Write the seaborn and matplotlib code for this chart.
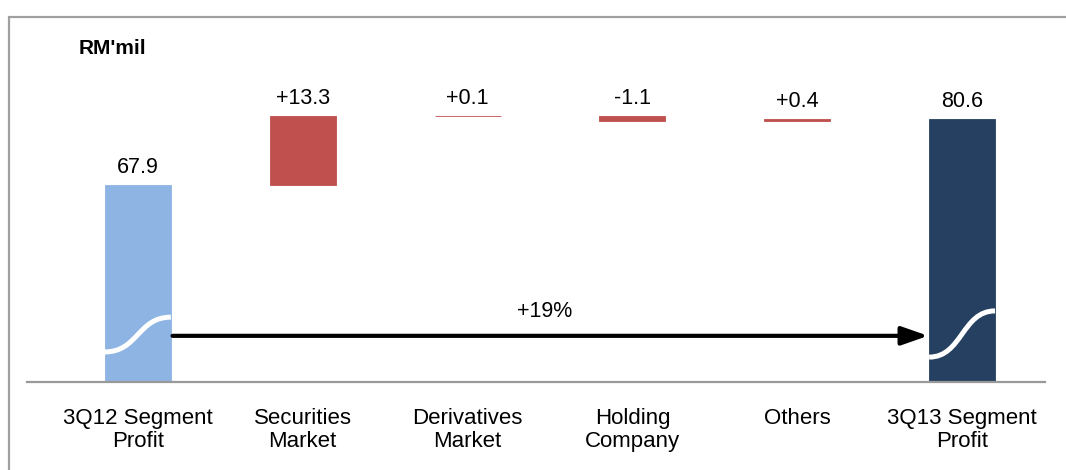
import numpy as np
import pandas as pd
import matplotlib
matplotlib.use("Agg")
import matplotlib.pyplot as plt
from matplotlib.lines import Line2D
from matplotlib.path import Path
from matplotlib.patches import PathPatch
import seaborn as sns

# data (RM'mil)
categories = ["3Q12 Segment\nProfit", "Securities\nMarket", "Derivatives\nMarket",
              "Holding\nCompany", "Others", "3Q13 Segment\nProfit"]
start_total = 67.9
changes = [13.3, 0.1, -1.1, 0.4]
end_total = 80.6
value_labels = ["67.9", "+13.3", "+0.1", "-1.1", "+0.4", "80.6"]
growth_label = "+19%"

colors = ["#8DB4E2", "#C0504D", "#C0504D", "#C0504D", "#C0504D", "#254061"]

# build waterfall bottoms / heights
levels = start_total + np.cumsum([0] + changes)
bottoms = [0] + [min(levels[i], levels[i + 1]) for i in range(len(changes))] + [0]
tops = [start_total] + [max(levels[i], levels[i + 1]) for i in range(len(changes))] + [end_total]
df = pd.DataFrame({"cat": categories, "bottom": bottoms, "top": tops})
df["height"] = df["top"] - df["bottom"]

sns.set_theme(style="white")
plt.rcParams["font.family"] = ["Liberation Sans", "DejaVu Sans"]
plt.rcParams["text.color"] = "black"
plt.rcParams["xtick.color"] = "black"

fig = plt.figure(figsize=(10.66, 4.70), dpi=100)
ax = fig.add_axes([0.0253, 0.1872, 0.9550, 0.7277])

sns.barplot(data=df, x="cat", y="height", hue="cat", palette=colors, legend=False,
            width=0.4, saturation=1, ax=ax)
# float the change bars on their bottoms
for patch, b, c in zip(ax.patches, df["bottom"], colors):
    patch.set_y(b)
    patch.set_edgecolor(c)
    patch.set_linewidth(0.6)

ax.set_ylim(30, 95.9)
ax.set_xlim(-0.673, 5.503)

# value labels above each bar
for i, (t, lab) in enumerate(zip(df["top"], value_labels)):
    ax.annotate(lab, (i, t), xytext=(0, 5), textcoords="offset points",
                ha="center", va="bottom", fontsize=15.5, color="black")

# axis-break squiggles on the two total bars
def squiggle(xc, y0, y1, w=0.2):
    verts = [(xc - w, y0), (xc, y0), (xc, y1), (xc + w, y1)]
    codes = [Path.MOVETO, Path.CURVE4, Path.CURVE4, Path.CURVE4]
    ax.add_patch(PathPatch(Path(verts, codes), fill=False, edgecolor="white",
                           linewidth=3.6, capstyle="butt", zorder=3))

squiggle(0, 35.8, 42.5)
squiggle(5, 34.8, 43.7)

# growth arrow
ax.annotate("", xy=(4.794, 38.9), xytext=(0.21, 38.9),
            arrowprops=dict(arrowstyle="-|>,head_length=0.8,head_width=0.28",
                            mutation_scale=20, color="black", lw=3,
                            shrinkA=0, shrinkB=0))
ax.text(2.47, 43.5, growth_label, ha="center", va="center", fontsize=15.5)

ax.set_xlabel("")
ax.set_ylabel("")
ax.set_yticks([])
ax.tick_params(axis="x", length=0, pad=19, labelsize=16, labelcolor="black")
for lab in ax.get_xticklabels():
    lab.set_linespacing(1.1)
for s in ["top", "left", "right"]:
    ax.spines[s].set_visible(False)
ax.spines["bottom"].set_color("#999999")
ax.spines["bottom"].set_linewidth(1.6)

fig.text(79 / 1066, 1 - 48 / 470, "RM'mil", ha="left", va="center",
         fontsize=15, fontweight="bold", color="black")

# outer frame (only left and top edges fall inside the picture)
fig.add_artist(Line2D([8.5 / 1066, 8.5 / 1066], [0, 1 - 17 / 470],
                      transform=fig.transFigure, color="#A0A0A0", lw=1.6))
fig.add_artist(Line2D([8.5 / 1066, 1], [1 - 17 / 470, 1 - 17 / 470],
                      transform=fig.transFigure, color="#A0A0A0", lw=1.6))

fig.savefig("out.png", dpi=100)
